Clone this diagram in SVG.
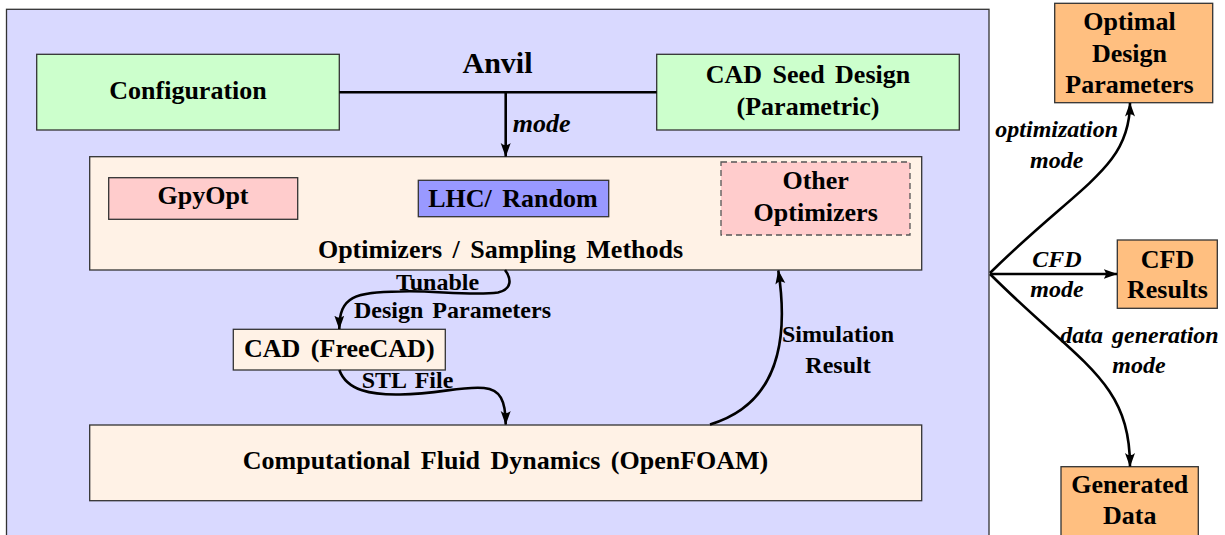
<svg xmlns="http://www.w3.org/2000/svg" width="1225" height="535" viewBox="0 0 1225 535">
<defs>
<style>
text{font-family:"Liberation Serif","Times New Roman",serif;font-weight:bold;fill:#000;text-anchor:middle;}
.b{font-size:26px;word-spacing:4px;}
.s{font-size:24px;word-spacing:3px;}
.i{font-style:italic;}
.box{stroke:#333;stroke-width:1.3;}
.con{fill:none;stroke:#000;stroke-width:2.6;}
.arr{marker-end:url(#ah);}
</style>
<marker id="ah" markerUnits="userSpaceOnUse" markerWidth="15" markerHeight="11" refX="13.5" refY="5" orient="auto">
<path d="M0,0 Q4.5,5 0,10 L14,5 Z" fill="#000"/>
</marker>
</defs>
<rect width="1225" height="535" fill="#fff"/>
<g id="anvil">
<rect class="box" x="6.5" y="9.3" width="982.5" height="540" fill="#d9d9ff"/>
<text x="497.5" y="72.7" style="font-size:30px">Anvil</text>
</g>
<g id="configuration">
<rect class="box" x="36.7" y="54.3" width="302.6" height="75.7" fill="#ccffcc"/>
<text class="b" x="188" y="99">Configuration</text>
</g>
<g id="cad-seed">
<rect class="box" x="656.7" y="54.3" width="302.6" height="75.7" fill="#ccffcc"/>
<text class="b" x="808" y="83.3">CAD Seed Design</text>
<text class="b" x="808" y="115">(Parametric)</text>
</g>
<g id="optimizers">
<rect class="box" x="89.7" y="156.7" width="832" height="113.3" fill="#fff2e6"/>
<text class="b" x="500.5" y="258">Optimizers / Sampling Methods</text>
</g>
<g id="gpyopt">
<rect class="box" x="108.7" y="177.7" width="189" height="41.6" fill="#ffcccc"/>
<text class="b" x="203" y="204">GpyOpt</text>
</g>
<g id="lhc">
<rect class="box" x="418.3" y="180.3" width="190.4" height="36.4" fill="#9999ff"/>
<text class="b" x="513" y="206.7">LHC/ Random</text>
</g>
<g id="other">
<rect x="721" y="162" width="189" height="73" fill="#ffcccc" stroke="#555" stroke-width="1.3" stroke-dasharray="6,4"/>
<text class="b" x="815.7" y="189.3">Other</text>
<text class="b" x="815.7" y="220.7">Optimizers</text>
</g>
<g id="cad">
<rect class="box" x="233.3" y="329.3" width="212" height="40.7" fill="#fff2e6"/>
<text class="b" x="339.3" y="356.7">CAD (FreeCAD)</text>
</g>
<g id="cfd">
<rect class="box" x="89.7" y="425" width="832" height="75.7" fill="#fff2e6"/>
<text class="b" x="505.5" y="469.3">Computational Fluid Dynamics (OpenFOAM)</text>
</g>
<g id="optimal">
<rect class="box" x="1054.7" y="3.3" width="158" height="99.4" fill="#ffbf80"/>
<text class="b" x="1129.5" y="29.5">Optimal</text>
<text class="b" x="1129.5" y="61.5">Design</text>
<text class="b" x="1129.5" y="93.3">Parameters</text>
</g>
<g id="cfd-results">
<rect class="box" x="1117.3" y="240" width="100" height="68.3" fill="#ffbf80"/>
<text class="b" x="1167.5" y="267.5">CFD</text>
<text class="b" x="1167.5" y="298.3">Results</text>
</g>
<g id="generated">
<rect class="box" x="1061" y="466.7" width="137.3" height="80" fill="#ffbf80"/>
<text class="b" x="1129.7" y="493.3">Generated</text>
<text class="b" x="1129.7" y="524.3">Data</text>
</g>
<g id="connectors">
<path class="con" d="M339.3,92.3 L656.7,92.3"/>
<path class="con arr" d="M505.7,92.3 L505.7,156.5"/>
<path class="con arr" d="M505,270 C511,278 513,289 498,292.5 C470,296 430,290 400,291.5 C355,292 339.3,296 339.3,329"/>
<path class="con arr" d="M339.3,370 C347,391 372,395 400,394.5 C440,394 460,386 484,388 C500,389.5 505.7,400 505.7,424.5"/>
<path class="con arr" d="M710,424.5 C765,408 792,360 778.3,270.5"/>
<path class="con arr" d="M990,273 C1080,184 1130,168 1130,103"/>
<path class="con arr" d="M990,274 L1117,274"/>
<path class="con arr" d="M990,274 C1080,364 1130,380 1130,466.5"/>
<text class="b i" x="512.7" y="131.7" style="text-anchor:start">mode</text>
<text class="s" x="437.5" y="290">Tunable</text>
<text class="s" x="452.5" y="318.3">Design Parameters</text>
<text class="s" x="407.5" y="387.7">STL File</text>
<text class="s" x="838" y="341.7">Simulation</text>
<text class="s" x="838" y="373.3">Result</text>
<text class="s i" x="1056.7" y="137">optimization</text>
<text class="s i" x="1056.7" y="168.3">mode</text>
<text class="s i" x="1057" y="267">CFD</text>
<text class="s i" x="1057" y="296.7">mode</text>
<text class="s i" x="1139.5" y="343.3">data generation</text>
<text class="s i" x="1139" y="373.3">mode</text>
</g>
</svg>
